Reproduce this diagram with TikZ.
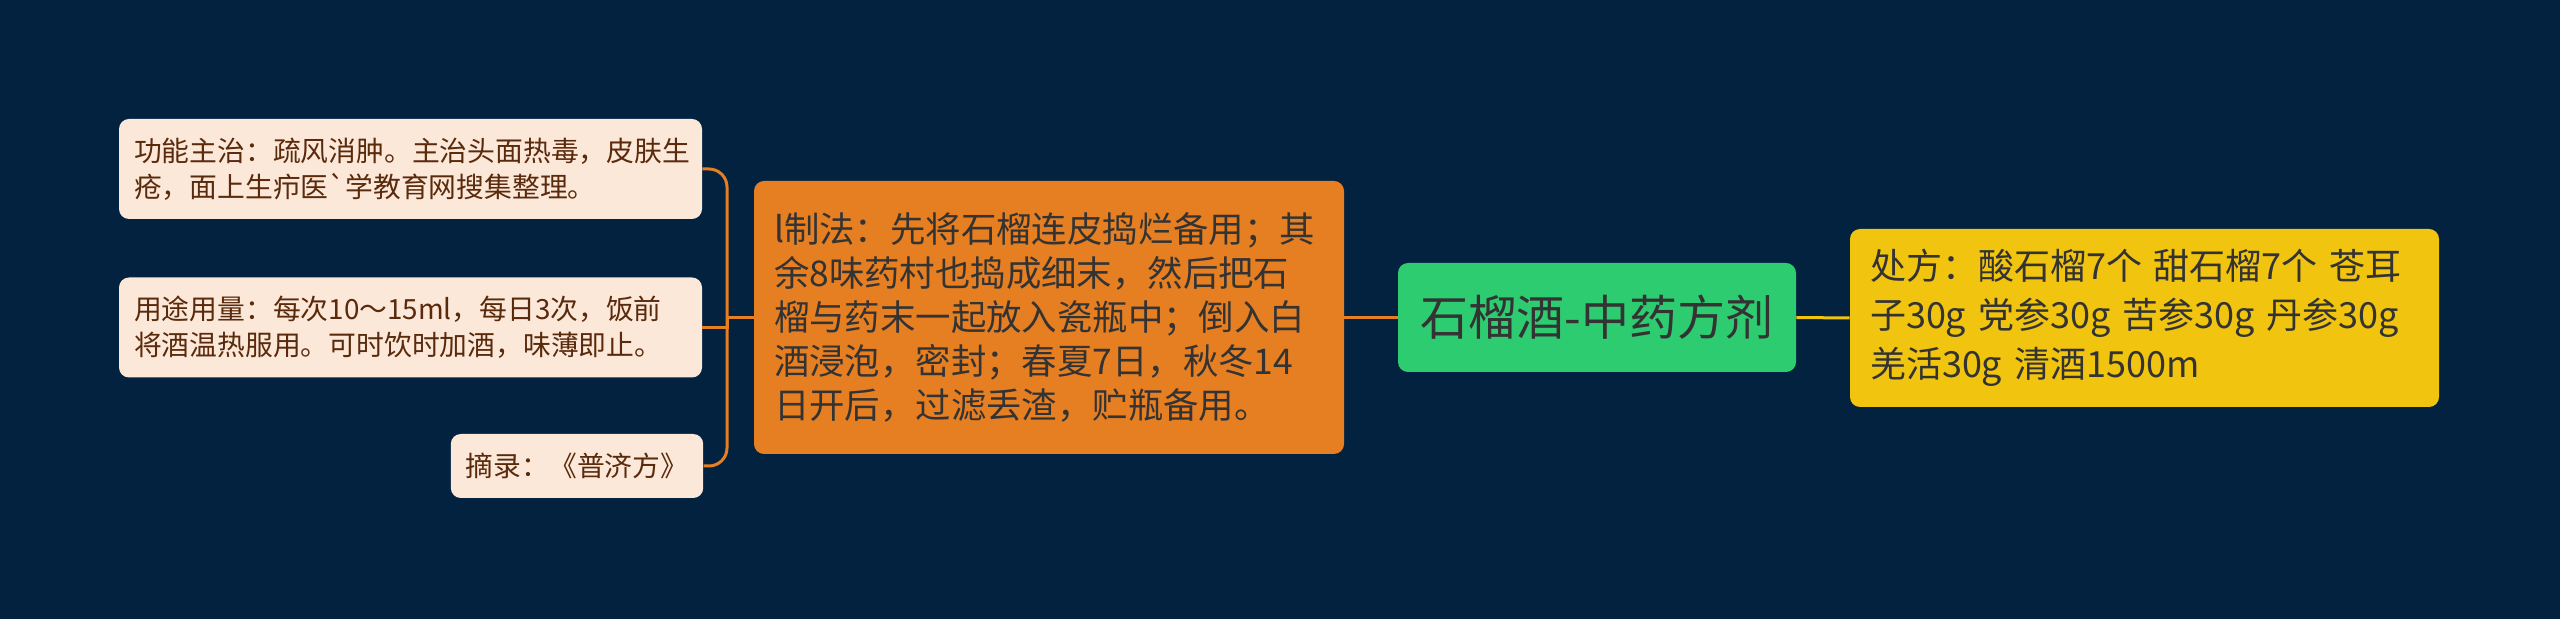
\documentclass[tikz,border=0pt]{standalone}
\usepackage{fontspec}
\setmainfont{Noto Sans CJK SC}
\definecolor{bgnavy}{HTML}{022240}
\definecolor{leafcream}{HTML}{FCE8D9}
\definecolor{leafbrown}{HTML}{5A2A0C}
\definecolor{carrot}{HTML}{E67E22}
\definecolor{emerald}{HTML}{2ECC71}
\definecolor{sunflower}{HTML}{F1C40F}
\definecolor{inkgrey}{HTML}{333333}
\tikzset{
  leaf/.style={fill=leafcream, text=leafbrown, rounded corners=5pt, align=left,
    inner xsep=7.5pt, inner ysep=0pt, font=\fontsize{13.9}{18}\selectfont},
  method/.style={fill=carrot, text=inkgrey, rounded corners=5pt, align=left,
    inner xsep=10pt, inner ysep=0pt, font=\fontsize{17.7}{22}\selectfont},
  topic/.style={fill=emerald, text=inkgrey, rounded corners=5pt, align=center,
    inner sep=0pt, font=\fontsize{24}{28}\selectfont},
  recipe/.style={fill=sunflower, text=inkgrey, rounded corners=5pt, align=left,
    inner xsep=10pt, inner ysep=0pt, font=\fontsize{18}{24.5}\selectfont},
  link/.style={draw=carrot, line width=1.5pt}
}
\begin{document}
\begin{tikzpicture}[x=0.5pt,y=-0.5pt]
\fill[bgnavy] (0,0) rectangle (2560,619);
\useasboundingbox (0,0) rectangle (2560,619);
% left leaves
\node[leaf, text width=276.5pt, minimum height=50pt] (effect) at (410.5,169) {功能主治：疏风消肿。主治头面热毒，皮肤生\\疮，面上生疖医\textasciigrave 学教育网搜集整理。};
\node[leaf, text width=276.5pt, minimum height=50pt] (usage) at (410.5,327.5) {用途用量：每次10～15ml，每日3次，饭前\\将酒温热服用。可时饮时加酒，味薄即止。};
\node[leaf, align=center, minimum width=125pt, minimum height=32pt] (source) at (577,466) {摘录：《普济方》};
% middle
\node[method, text width=275pt, minimum height=136.5pt] (making) at (1049,317.5) {l制法：先将石榴连皮捣烂备用；其\\余8味药村也捣成细末，然后把石\\榴与药末一起放入瓷瓶中；倒入白\\酒浸泡，密封；春夏7日，秋冬14\\日开后，过滤丢渣，贮瓶备用。};
\node[topic, minimum width=199pt, minimum height=54.5pt] (root) at (1597,317.5) {石榴酒-中药方剂};
\node[recipe, text width=274.5pt, minimum height=89pt] (formula) at (2144.5,318) {处方：酸石榴7个 甜石榴7个 苍耳\\子30g 党参30g 苦参30g 丹参30g\\羌活30g 清酒1500m};
% connectors
\coordinate (fork) at (727,317.5);
\draw[link] (making.west) -- (fork);
\draw[link, rounded corners=9pt] (fork) |- (effect.east);
\draw[link] (fork) |- (usage.east);
\draw[link, rounded corners=9pt] (fork) |- (source.east);
\draw[link] (root.west) -- (making.east);
\draw[draw=sunflower, line width=1.5pt] (root.east) -- (formula.west);
\end{tikzpicture}
\end{document}
